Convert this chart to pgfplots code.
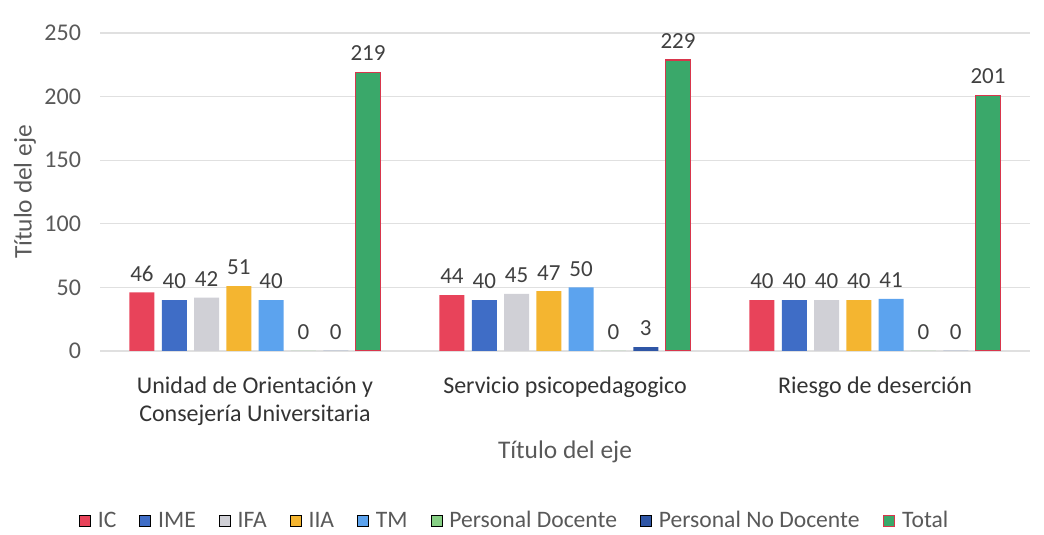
\documentclass[border=0pt]{standalone}
\usepackage{pgfplots}
\usepackage{pgfplotstable}
\pgfplotsset{compat=1.18}
\usepackage{fontspec}
\setmainfont{Carlito}
\definecolor{cIC}{HTML}{E8435A}
\definecolor{cIME}{HTML}{3F6DC6}
\definecolor{cIFA}{HTML}{D0D0D6}
\definecolor{cIIA}{HTML}{F4B530}
\definecolor{cTM}{HTML}{5CA3EE}
\definecolor{cPD}{HTML}{86CF84}
\definecolor{cPND}{HTML}{2F56A6}
\definecolor{cTot}{HTML}{3AA86A}
\definecolor{cTotB}{HTML}{D8364C}
\definecolor{tick}{HTML}{595959}
\definecolor{lab}{HTML}{404040}
\pgfplotstableread{
x IC IME IFA IIA TM PD PND Total
0 46 40 42 51 40 0 0 219
1 44 40 45 47 50 0 3 229
2 40 40 40 40 41 0 0 201
}\data
\begin{document}
\begin{tikzpicture}
\useasboundingbox (0,0) rectangle (522pt,267.5pt);
\begin{axis}[
  at={(50pt,92pt)}, anchor=south west,
  scale only axis, width=465pt, height=159pt,
  ybar=3.65pt, bar width=12.5pt,
  xmin=-0.5, xmax=2.5, ymin=0, ymax=250,
  ytick={0,50,...,250},
  xtick={0,1,2},
  xticklabels={{Unidad de Orientación y\\Consejería Universitaria},{Servicio psicopedagogico},{Riesgo de deserción}},
  axis x line*=bottom, axis y line*=left,
  axis line style={draw=none},
  ymajorgrids, major grid style={draw=black!12, line width=0.6pt},
  tick style={draw=none},
  /pgf/number format/assume math mode=true,
  yticklabel style={font=\fontsize{12}{13}\selectfont, text=tick, xshift=-6pt},
  xticklabel style={font=\fontsize{12}{14}\selectfont, text=black!80, align=center, yshift=-5pt},
  ylabel={Título del eje},
  xlabel={Título del eje},
  every axis y label/.style={at={(axis description cs:-0.0806,0.5)}, rotate=90, anchor=center, font=\fontsize{12.7}{14}\selectfont, text=tick},
  every axis x label/.style={at={(axis description cs:0.5,-0.3176)}, anchor=center, font=\fontsize{12.7}{14}\selectfont, text=tick},
  nodes near coords,
  every node near coord/.append style={font=\fontsize{11.5}{13}\selectfont, text=lab, yshift=2pt},
  legend columns=8,
  legend style={at={(axis description cs:0.447,-0.535)}, anchor=center, draw=none, fill=none,
    font=\fontsize{11.8}{13}\selectfont, text=tick,
    /tikz/every odd column/.append style={column sep=1.5pt},
    /tikz/every even column/.append style={column sep=9.5pt}},
  legend image code/.code={\draw[#1] (0pt,-2.75pt) rectangle (5.5pt,2.75pt);},
]
\addplot[fill=cIC, draw=none] table[x=x,y=IC]{\data};
\addplot[fill=cIME, draw=none] table[x=x,y=IME]{\data};
\addplot[fill=cIFA, draw=none] table[x=x,y=IFA]{\data};
\addplot[fill=cIIA, draw=none] table[x=x,y=IIA]{\data};
\addplot[fill=cTM, draw=none] table[x=x,y=TM]{\data};
\addplot[fill=cPD, draw=none] table[x=x,y=PD]{\data};
\addplot[fill=cPND, draw=none] table[x=x,y=PND]{\data};
\addplot[fill=cTot, draw=cTotB, line width=0.8pt] table[x=x,y=Total]{\data};
\legend{IC,IME,IFA,IIA,TM,Personal Docente,Personal No Docente,Total}
\end{axis}
\end{tikzpicture}
\end{document}
